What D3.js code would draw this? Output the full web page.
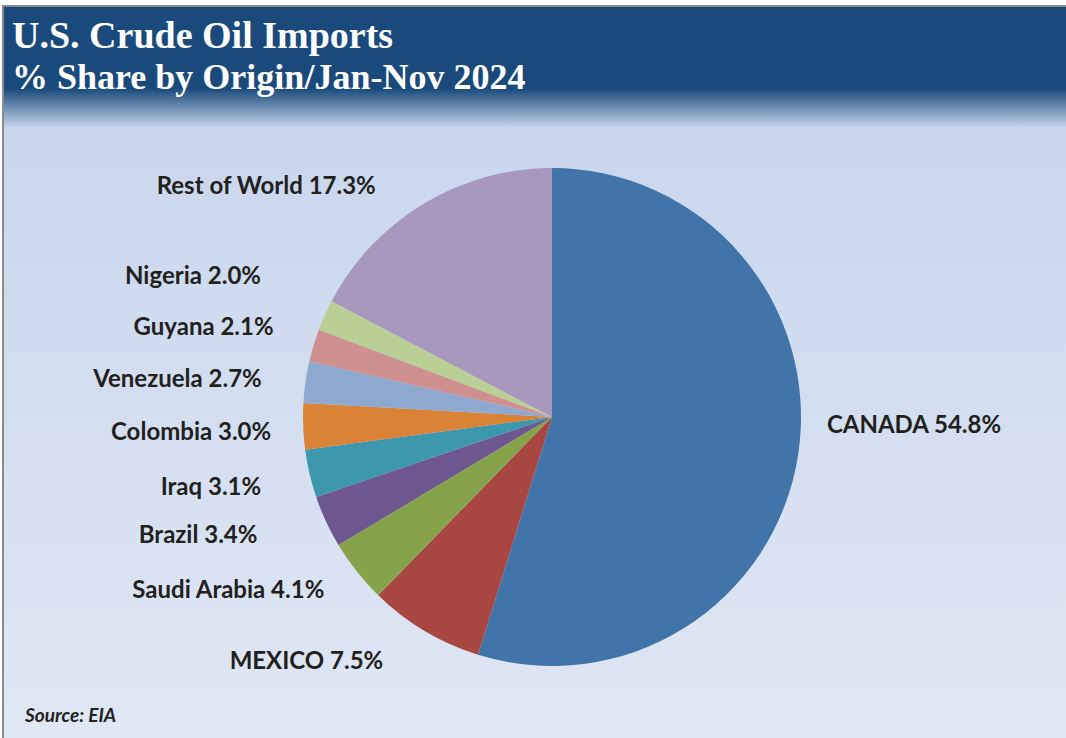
<!DOCTYPE html>
<html>
<head>
<meta charset="utf-8">
<script src="https://cdn.jsdelivr.net/npm/d3@7"></script>
<style>
  body { margin: 0; background: #fff; }
  svg { display: block; }
</style>
</head>
<body>
<svg id="chart"></svg>
<script>
// data
const origins = ['CANADA', 'MEXICO', 'Saudi Arabia', 'Brazil', 'Iraq', 'Colombia', 'Venezuela', 'Guyana', 'Nigeria', 'Rest of World']
const shares = [54.8, 7.5, 4.1, 3.4, 3.1, 3.0, 2.7, 2.1, 2.0, 17.3]
const sliceColors = ['#4174a8', '#a84642', '#86a34c', '#6e578f', '#3d97ad', '#da8337', '#8fa8cf', '#cf9190', '#b9cf96', '#a898bd']
// hand-placed label nudges, like the dragged excel labels
const labelNudge = [[3, -34], [-28, 7], [-12, 2], [-45, 2], [-23, 7], [-6, 4], [-18, 0], [-15, -11], [-40, -29], [-34, 4]]

const width = 1066
const height = 738

const svg = d3.select('#chart').attr('width', width).attr('height', height)
const defs = svg.append('defs')

const bg = defs.append('linearGradient').attr('id', 'bg').attr('x1', 0).attr('y1', 0).attr('x2', 0).attr('y2', 1)
bg.append('stop').attr('offset', '0%').attr('stop-color', '#c4d3eb')
bg.append('stop').attr('offset', '100%').attr('stop-color', '#e0e7f5')

const head = defs.append('linearGradient').attr('id', 'head').attr('x1', 0).attr('y1', 0).attr('x2', 0).attr('y2', 1)
head.append('stop').attr('offset', '0%').attr('stop-color', '#1a4a7c')
head.append('stop').attr('offset', '68%').attr('stop-color', '#1a4a7c')
head.append('stop').attr('offset', '100%').attr('stop-color', '#c4d3eb')

// panel
svg.append('rect').attr('x', 4).attr('y', 7).attr('width', width - 4).attr('height', height - 7).attr('fill', 'url(#bg)')
svg.append('rect').attr('x', 4).attr('y', 7).attr('width', width - 4).attr('height', 120).attr('fill', 'url(#head)')
svg.append('line').attr('x1', 3).attr('x2', width).attr('y1', 6).attr('y2', 6).attr('stroke', '#8a8a8a').attr('stroke-width', 2)
svg.append('line').attr('x1', 3).attr('x2', 3).attr('y1', 5).attr('y2', height).attr('stroke', '#8a8a8a').attr('stroke-width', 2)

// titles
svg.append('text').attr('x', 12).attr('y', 48)
  .style('font-family', '"Liberation Serif", serif').style('font-weight', 'bold').style('font-size', '38px')
  .attr('fill', '#fff').text('U.S. Crude Oil Imports')
svg.append('text').attr('x', 12).attr('y', 89)
  .style('font-family', '"Liberation Serif", serif').style('font-weight', 'bold').style('font-size', '36px')
  .attr('fill', '#fff').text('% Share by Origin/Jan-Nov 2024')

// pie
const cx = 552, cy = 417, r = 249
const g = svg.append('g').attr('transform', 'translate(' + cx + ',' + cy + ')')

const pie = d3.pie().sort(null).value(d => d)
const arcs = pie(shares)
const arc = d3.arc().innerRadius(0).outerRadius(r)

g.selectAll('path')
  .data(arcs)
  .enter()
  .append('path')
    .attr('d', arc)
    .attr('fill', (d, i) => sliceColors[i])
    .attr('stroke', 'none')

// labels
const labelR = 275
g.selectAll('text.lbl')
  .data(arcs)
  .enter()
  .append('text')
    .attr('class', 'lbl')
    .attr('x', (d, i) => labelR * Math.sin((d.startAngle + d.endAngle) / 2) + labelNudge[i][0])
    .attr('y', (d, i) => -labelR * Math.cos((d.startAngle + d.endAngle) / 2) + labelNudge[i][1])
    .attr('dy', '0.35em')
    .attr('text-anchor', (d) => Math.sin((d.startAngle + d.endAngle) / 2) > 0 ? 'start' : 'end')
    .style('font-family', 'Lato, sans-serif').style('font-weight', 'bold').style('font-size', '24px')
    .attr('fill', '#231f20')
    .text((d, i) => origins[i] + ' ' + shares[i].toFixed(1) + '%')

svg.append('text').attr('x', 25).attr('y', 722)
  .style('font-family', 'Lato, sans-serif').style('font-weight', 'bold').style('font-style', 'italic').style('font-size', '19px')
  .attr('fill', '#231f20').text('Source: EIA')
</script>
</body>
</html>
